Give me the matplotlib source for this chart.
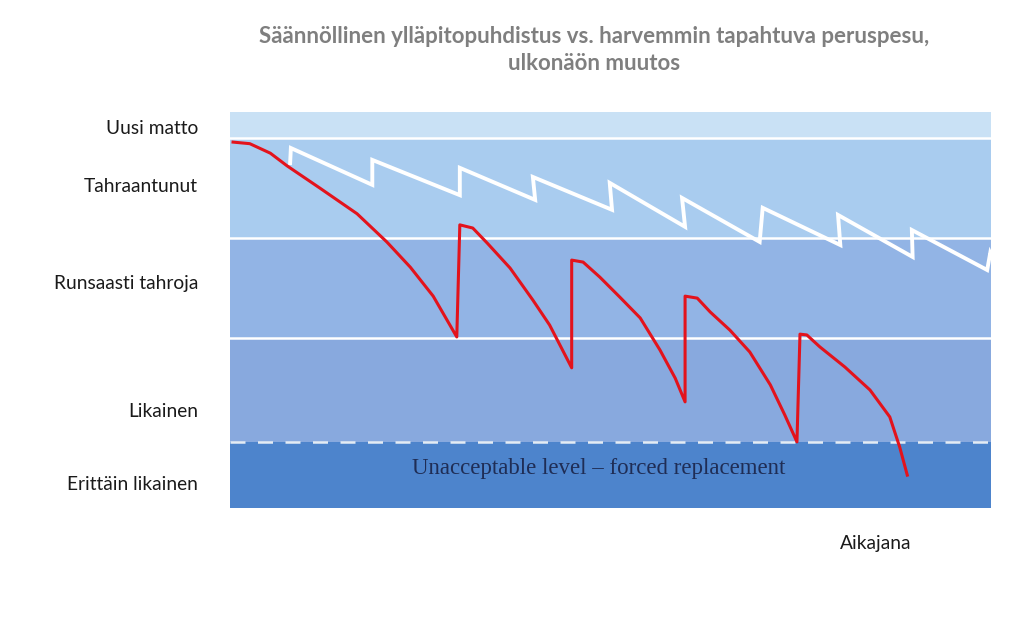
import matplotlib
matplotlib.use("Agg")
import matplotlib.pyplot as plt

# ---- data ----
level_labels = ["Uusi matto", "Tahraantunut", "Runsaasti tahroja", "Likainen", "Erittäin likainen"]
level_label_pos = [96.2, 81.6, 57.1, 24.7, 6.3]
band_edges = [0, 16.7, 42.9, 68.2, 93.4, 100]
band_colors = ["#4d84cc", "#88a9de", "#92b4e5", "#a9ccef", "#c9e1f5"]

red_t = [0.4, 2.6, 5.3, 7.5, 11.8, 16.7, 20.6, 23.7, 26.7, 29.8,
         30.2, 31.9, 33.8, 36.8, 39.8, 42.0, 44.9,
         44.9, 46.4, 48.6, 51.2, 53.9, 56.5, 58.5, 59.8,
         59.8, 61.4, 63.1, 65.7, 68.3, 71.0, 72.9, 74.5,
         74.9, 75.8, 77.5, 80.8, 84.1, 86.7, 88.0, 89.0]
red_level = [92.4, 92.0, 89.6, 86.4, 80.8, 74.3, 67.2, 60.8, 53.5, 43.2,
             71.5, 70.7, 66.9, 60.6, 52.5, 46.2, 35.4,
             62.6, 62.1, 58.3, 53.3, 48.0, 39.9, 32.8, 26.8,
             53.5, 53.0, 49.5, 44.9, 39.4, 31.1, 23.5, 16.7,
             43.9, 43.7, 40.7, 35.6, 29.8, 23.0, 15.4, 8.3]

white_t = [7.9, 8.0, 18.7, 18.7, 30.2, 30.2, 40.1, 39.8, 50.2, 49.9,
           59.8, 59.4, 69.6, 70.0, 80.2, 79.9, 89.7, 89.6, 99.5, 99.9, 100]
white_level = [87.1, 90.9, 81.6, 87.9, 79.0, 85.9, 77.8, 83.6, 75.3, 82.1,
               71.0, 78.3, 67.2, 75.8, 66.4, 74.0, 63.4, 70.2, 60.1, 64.4, 64.0]

title = "Säännöllinen ylläpitopuhdistus vs. harvemmin tapahtuva peruspesu,\nulkonäön muutos"
band_text = "Unacceptable level – forced replacement"
xlabel = "Aikajana"

# ---- figure ----
fig = plt.figure(figsize=(10.24, 6.42), dpi=100)
ax = fig.add_axes([230/1024, 1 - 508/642, 761/1024, 396/642])
ax.set_xlim(0, 100)
ax.set_ylim(0, 100)

for i in range(len(band_colors)):
    ax.axhspan(band_edges[i], band_edges[i+1], color=band_colors[i], lw=0, zorder=0)

for e in band_edges[2:5]:
    ax.axhline(e, color="white", lw=1.8, zorder=1)
ax.axhline(band_edges[1], color="#e4ecf4", lw=1.8, dashes=(6, 5), zorder=1)

ax.text(48.4, 10.1, band_text, ha="center", va="center", fontsize=16.5,
        family="Liberation Serif", color="#1f2d55", zorder=2)

ax.plot(white_t, white_level, color="white", lw=2.8, solid_joinstyle="miter", zorder=3)
ax.plot(red_t, red_level, color="#e3131c", lw=2.2, zorder=4)

for s in ax.spines.values():
    s.set_visible(False)
ax.set_xticks([])
ax.set_yticks(level_label_pos)
ax.set_yticklabels(level_labels, fontsize=13.8, family="Lato", color="#1a1a1a")
ax.tick_params(axis="y", length=0, pad=23)

ax.set_xlabel(xlabel, fontsize=13.8, family="Lato", color="#1a1a1a", va="center")
ax.xaxis.set_label_coords((876 - 230) / 761, -35 / 396)

fig.text(594 / 1024, 1 - 50 / 642, title, ha="center", va="center", fontsize=16,
         family="Lato", fontweight="bold", color="#7f7f7f", linespacing=1.3)

fig.savefig("out.png", dpi=100)
